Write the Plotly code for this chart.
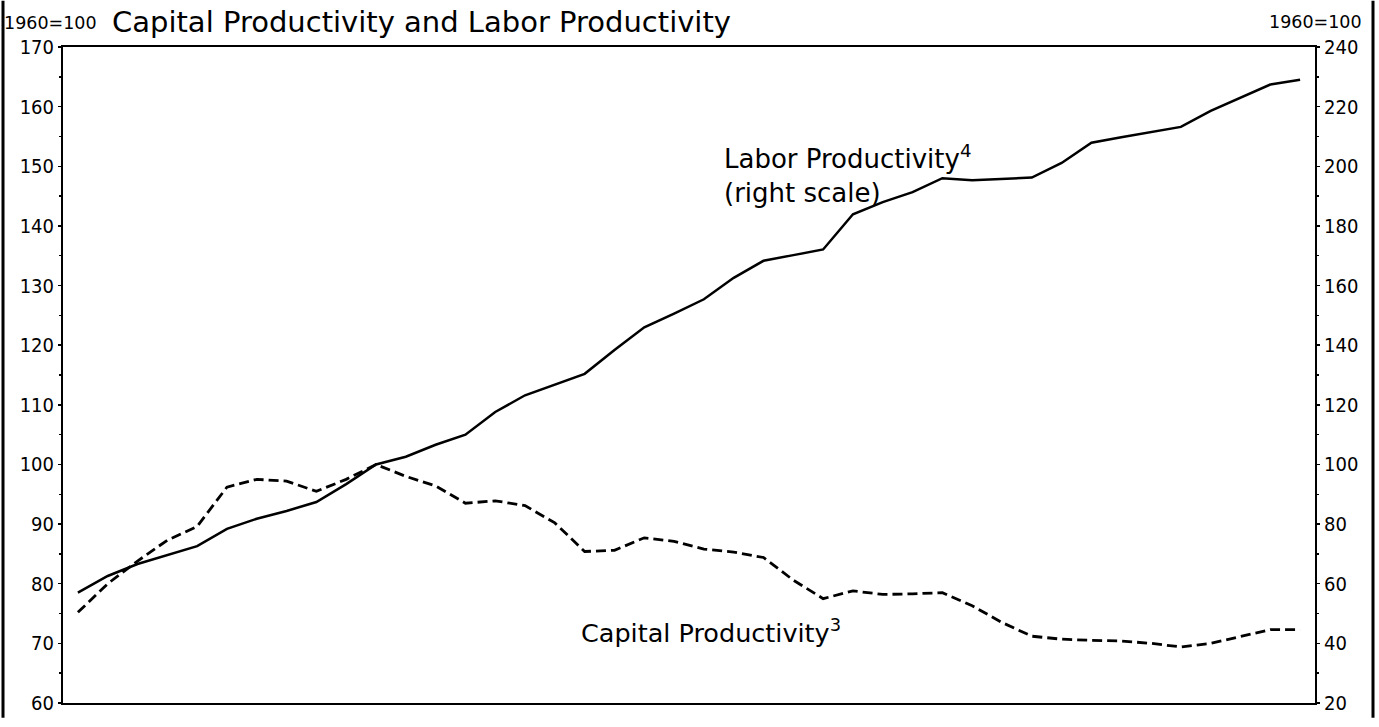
import plotly.graph_objects as go

years = list(range(1950, 1992))

# Labor productivity, 1960=100 (right scale)
labor = [57, 62.6, 66.6, 69.6, 72.6, 78.4, 81.8, 84.4, 87.4, 93.4,
         100, 102.6, 106.6, 110, 117.6, 123.2, 126.8, 130.4, 138.4, 146,
         150.6, 155.4, 162.6, 168.3, 170.2, 172.1, 183.9, 188.0, 191.3, 196.0,
         195.3, 195.8, 196.2, 201.1, 207.9, 209.7, 211.5, 213.2, 218.6, 223.0,
         227.4, 229.0]

# Capital productivity, 1960=100 (left scale)
capital = [75.2, 80.0, 83.8, 87.3, 89.6, 96.2, 97.5, 97.2, 95.5, 97.5,
           100, 98.0, 96.4, 93.5, 93.9, 93.1, 90.2, 85.4, 85.6, 87.7,
           87.1, 85.8, 85.3, 84.4, 80.6, 77.5, 78.8, 78.2, 78.3, 78.5,
           76.3, 73.5, 71.2, 70.7, 70.5, 70.4, 70.0, 69.4, 70.0, 71.2,
           72.3, 72.3]

left_ticks = list(range(60, 171, 10))
right_ticks = list(range(20, 241, 20))

W, H = 1379, 727
L, R, T, B = 63, 64, 47, 15
pw, ph = W - L - R, H - T - B

def px(xp):
    return (xp - L) / pw

def py(yp):
    return (H - B - yp) / ph

fig = go.Figure()
fig.add_trace(go.Scatter(x=years, y=capital, mode="lines", name="Capital Productivity",
                         line=dict(color="black", width=2.8, dash="10px,5px"),
                         yaxis="y", showlegend=False, hoverinfo="skip"))
fig.add_trace(go.Scatter(x=years, y=labor, mode="lines", name="Labor Productivity",
                         line=dict(color="black", width=2.5),
                         yaxis="y2", showlegend=False, hoverinfo="skip"))

tickfont = dict(family="DejaVu Sans Condensed, Liberation Sans Narrow, Roboto Condensed, Liberation Sans, Arial",
                size=20, color="black")
textfont = "DejaVu Sans, Verdana, sans-serif"

fig.update_layout(
    width=W, height=H,
    margin=dict(l=L, r=R, t=T, b=B),
    paper_bgcolor="white", plot_bgcolor="white",
    xaxis=dict(range=[1949.5, 1991.5], showgrid=False, zeroline=False,
               showticklabels=False, ticks="", showline=True, mirror=True,
               linecolor="black", linewidth=2),
    yaxis=dict(range=[60, 170], tickvals=left_ticks, showgrid=False, zeroline=False,
               showline=True, linecolor="black", linewidth=2,
               ticks="outside", ticklen=3, tickwidth=1.5, tickcolor="black",
               minor=dict(dtick=5, ticks="outside", ticklen=2, tickcolor="black"),
               tickfont=tickfont),
    yaxis2=dict(range=[20, 240], tickvals=right_ticks, overlaying="y", side="right",
                showgrid=False, zeroline=False, showline=True, linecolor="black",
                linewidth=2, ticks="outside", ticklen=3, tickwidth=1.5, tickcolor="black",
                minor=dict(dtick=10, ticks="outside", ticklen=2, tickcolor="black"),
                tickfont=tickfont),
)

annotations = [
    dict(text="1960=100", xref="paper", yref="paper", x=px(2), y=py(23),
         xanchor="left", yanchor="middle", showarrow=False,
         font=dict(family=textfont, size=17.5, color="black")),
    dict(text="Capital Productivity and Labor Productivity", xref="paper", yref="paper",
         x=px(110), y=py(22), xanchor="left", yanchor="middle", showarrow=False,
         font=dict(family=textfont, size=29, color="black")),
    dict(text="1960=100", xref="paper", yref="paper", x=px(1364), y=py(22),
         xanchor="right", yanchor="middle", showarrow=False,
         font=dict(family=textfont, size=17.5, color="black")),
    dict(text="Labor Productivity<sup>4</sup><br>(right scale)", xref="paper", yref="paper",
         x=px(722), y=py(176), xanchor="left", yanchor="middle", align="left",
         showarrow=False, font=dict(family=textfont, size=26, color="black")),
    dict(text="Capital Productivity<sup>3</sup>", xref="paper", yref="paper",
         x=px(579), y=py(639), xanchor="left", yanchor="middle", align="left",
         showarrow=False, font=dict(family=textfont, size=25.5, color="black")),
]
fig.update_layout(annotations=annotations)

fig.update_layout(shapes=[
    dict(type="line", xref="paper", yref="paper", x0=px(3), x1=px(3), y0=py(H), y1=py(0),
         line=dict(color="black", width=3)),
    dict(type="line", xref="paper", yref="paper", x0=px(1373), x1=px(1373), y0=py(H), y1=py(0),
         line=dict(color="black", width=3)),
])

fig.write_html("out.html",
               config={"displayModeBar": False, "staticPlot": True},
               post_script="document.body.style.margin='0';document.body.style.overflow='hidden';")
